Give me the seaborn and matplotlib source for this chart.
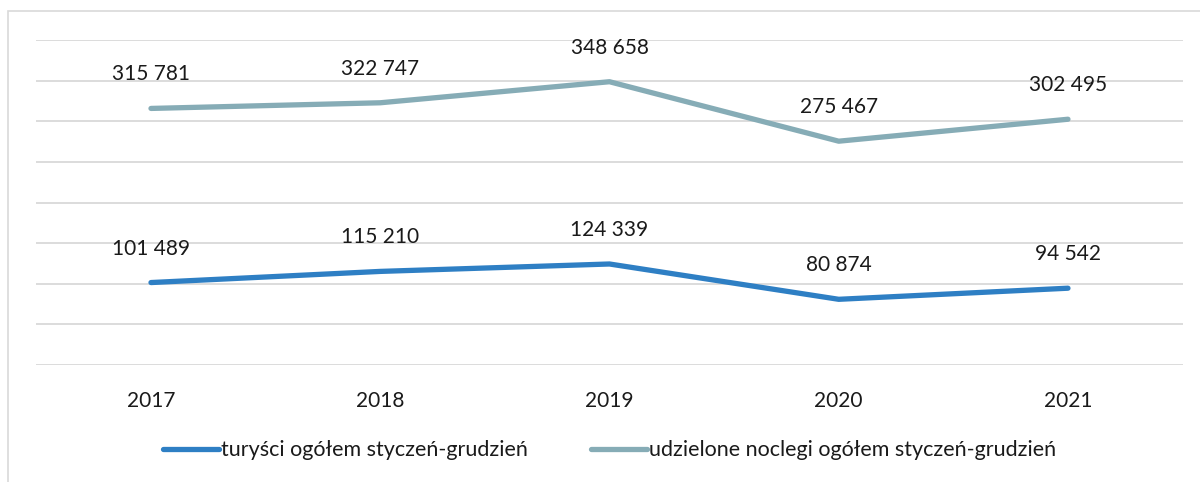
import matplotlib
matplotlib.use("Agg")
import matplotlib.pyplot as plt
import matplotlib.patches as mpatches
import seaborn as sns
import pandas as pd

years = ["2017", "2018", "2019", "2020", "2021"]
tourists = [101489, 115210, 124339, 80874, 94542]
nights = [315781, 322747, 348658, 275467, 302495]
series_names = ["turyści ogółem styczeń-grudzień",
                "udzielone noclegi ogółem styczeń-grudzień"]
colors = ["#2E7FC4", "#86ACB6"]

df = pd.DataFrame({
    "rok": years * 2,
    "wartość": tourists + nights,
    "seria": [series_names[0]] * len(years) + [series_names[1]] * len(years),
})

sns.set_theme(style="white")
plt.rcParams["font.family"] = ["Lato", "DejaVu Sans"]

fig = plt.figure(figsize=(12, 4.82), dpi=100)
ax = fig.add_axes([0.0303, 0.2427, 0.9552, 0.6743])

# outer frame of the chart area
frame = mpatches.Rectangle((8 / 1200, -0.2), 1.2, 1.2 - 11 / 482,
                           transform=fig.transFigure, fill=False,
                           edgecolor="#D9D9D9", linewidth=1.2, zorder=0)
fig.patches.append(frame)

sns.lineplot(data=df, x="rok", y="wartość", hue="seria", palette=colors,
             linewidth=3.8, ax=ax, sort=False, legend=True)
for line in ax.get_lines():
    line.set_solid_capstyle("round")

ax.set_ylim(0, 400000)
ax.set_xlim(-0.5, len(years) - 0.5)
ax.set_yticks(range(0, 400001, 50000))
ax.set_yticklabels([])
ax.grid(axis="y", color="#D9D9D9", linewidth=1.3)
ax.grid(axis="x", visible=False)
for s in ax.spines.values():
    s.set_visible(False)
ax.tick_params(axis="x", length=0, labelsize=15, pad=19, colors="#1a1a1a")
ax.tick_params(axis="y", length=0)
ax.set_xlabel("")
ax.set_ylabel("")

def fmt(v):
    return f"{v:,}".replace(",", " ")

for vals in (tourists, nights):
    for yr, v in zip(years, vals):
        ax.annotate(fmt(v), xy=(yr, v), xytext=(0, 24.5), textcoords="offset points",
                    ha="center", va="center", fontsize=15, color="#1a1a1a")

leg = ax.legend(loc="center", bbox_to_anchor=(0.5, -0.262), ncol=2, frameon=False,
                fontsize=15.5, handlelength=2.6, handletextpad=0.1, columnspacing=2.9)
for h in leg.get_lines():
    h.set_linewidth(3.8)
    h.set_solid_capstyle("round")
for t in leg.get_texts():
    t.set_color("#1a1a1a")

fig.savefig("out.png", dpi=100, facecolor="white")
